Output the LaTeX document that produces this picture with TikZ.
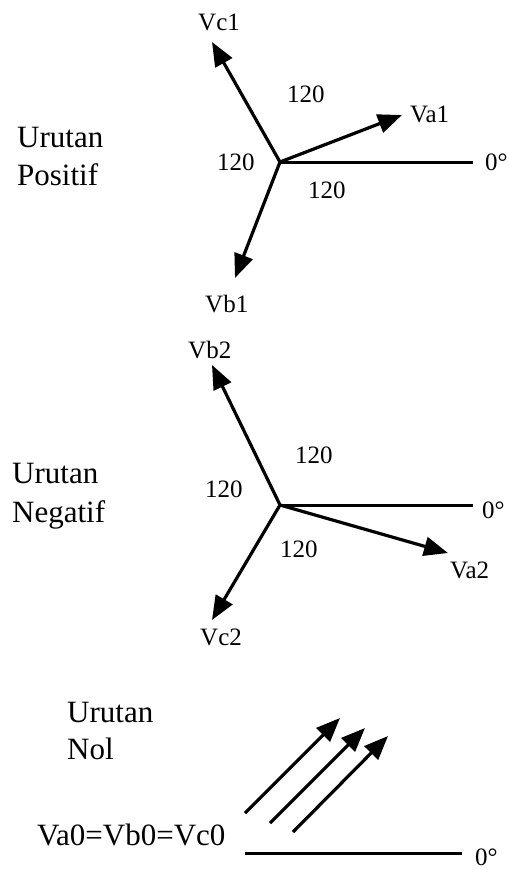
\documentclass[tikz,border=0pt]{standalone}
\usepackage{fontspec}
\setmainfont{Liberation Serif}
\usetikzlibrary{arrows.meta, positioning}

\begin{document}
\begin{tikzpicture}[
  x=1pt, y=-1pt,
  phasor/.style={-{Triangle[length=24pt,width=19pt]}, line width=3.2pt},
  axisline/.style={line width=3pt},
  lbl/.style={anchor=base west, inner sep=0pt, font=\fontsize{25}{30}\selectfont},
  seq/.style={anchor=base west, inner sep=0pt, font=\fontsize{31}{38}\selectfont}
]
\useasboundingbox (0,0) rectangle (509,870);

% urutan positif
\coordinate (o1) at (280,162);
\coordinate (e1) at (473,162);
\coordinate (a1) at (402,115);
\coordinate (c1) at (212,42);
\coordinate (b1) at (235,278);
\draw[axisline] (o1) -- (e1);
\draw[phasor] (o1) -- (a1);
\draw[phasor] (o1) -- (c1);
\draw[phasor] (o1) -- (b1);
\node[lbl] (va1) at (410,122) {Va1};
\node[lbl] (vc1) at (198,30) {Vc1};
\node[lbl] (vb1) at (205,312) {Vb1};
\node[lbl] (deg1) at (485,170) {0°};
\node[lbl] (ang1a) at (287,102) {120};
\node[lbl] (ang1b) at (217,170) {120};
\node[lbl] (ang1c) at (308,198) {120};
\node[seq] (pos1) at (17,147) {Urutan};
\node[seq] (pos2) at (17,185) {Positif};

% urutan negatif
\coordinate (o2) at (280,505);
\coordinate (e2) at (473,505);
\coordinate (a2) at (448,553);
\coordinate (b2) at (212,365);
\coordinate (c2) at (212,620);
\draw[axisline] (o2) -- (e2);
\draw[phasor] (o2) -- (a2);
\draw[phasor] (o2) -- (b2);
\draw[phasor] (o2) -- (c2);
\node[lbl] (va2) at (450,578) {Va2};
\node[lbl] (vb2) at (188,358) {Vb2};
\node[lbl] (vc2) at (200,645) {Vc2};
\node[lbl] (deg2) at (482,518) {0°};
\node[lbl] (ang2a) at (295,463) {120};
\node[lbl] (ang2b) at (205,497) {120};
\node[lbl] (ang2c) at (280,557) {120};
\node[seq] (neg1) at (12,483) {Urutan};
\node[seq] (neg2) at (12,522) {Negatif};

% urutan nol
\coordinate (s0) at (245,853);
\coordinate (e0) at (462,853);
\coordinate (p1) at (245,813);
\coordinate (q1) at (340,718);
\coordinate (p2) at (270,823);
\coordinate (q2) at (365,728);
\coordinate (p3) at (293,832);
\coordinate (q3) at (388,736);
\draw[axisline] (s0) -- (e0);
\draw[phasor] (p1) -- (q1);
\draw[phasor] (p2) -- (q2);
\draw[phasor] (p3) -- (q3);
\node[lbl] (deg0) at (475,865) {0°};
\node[seq] (nol1) at (67,722) {Urutan};
\node[seq] (nol2) at (67,759) {Nol};
\node[seq] (v0) at (37,845) {Va0=Vb0=Vc0};
\end{tikzpicture}
\end{document}
